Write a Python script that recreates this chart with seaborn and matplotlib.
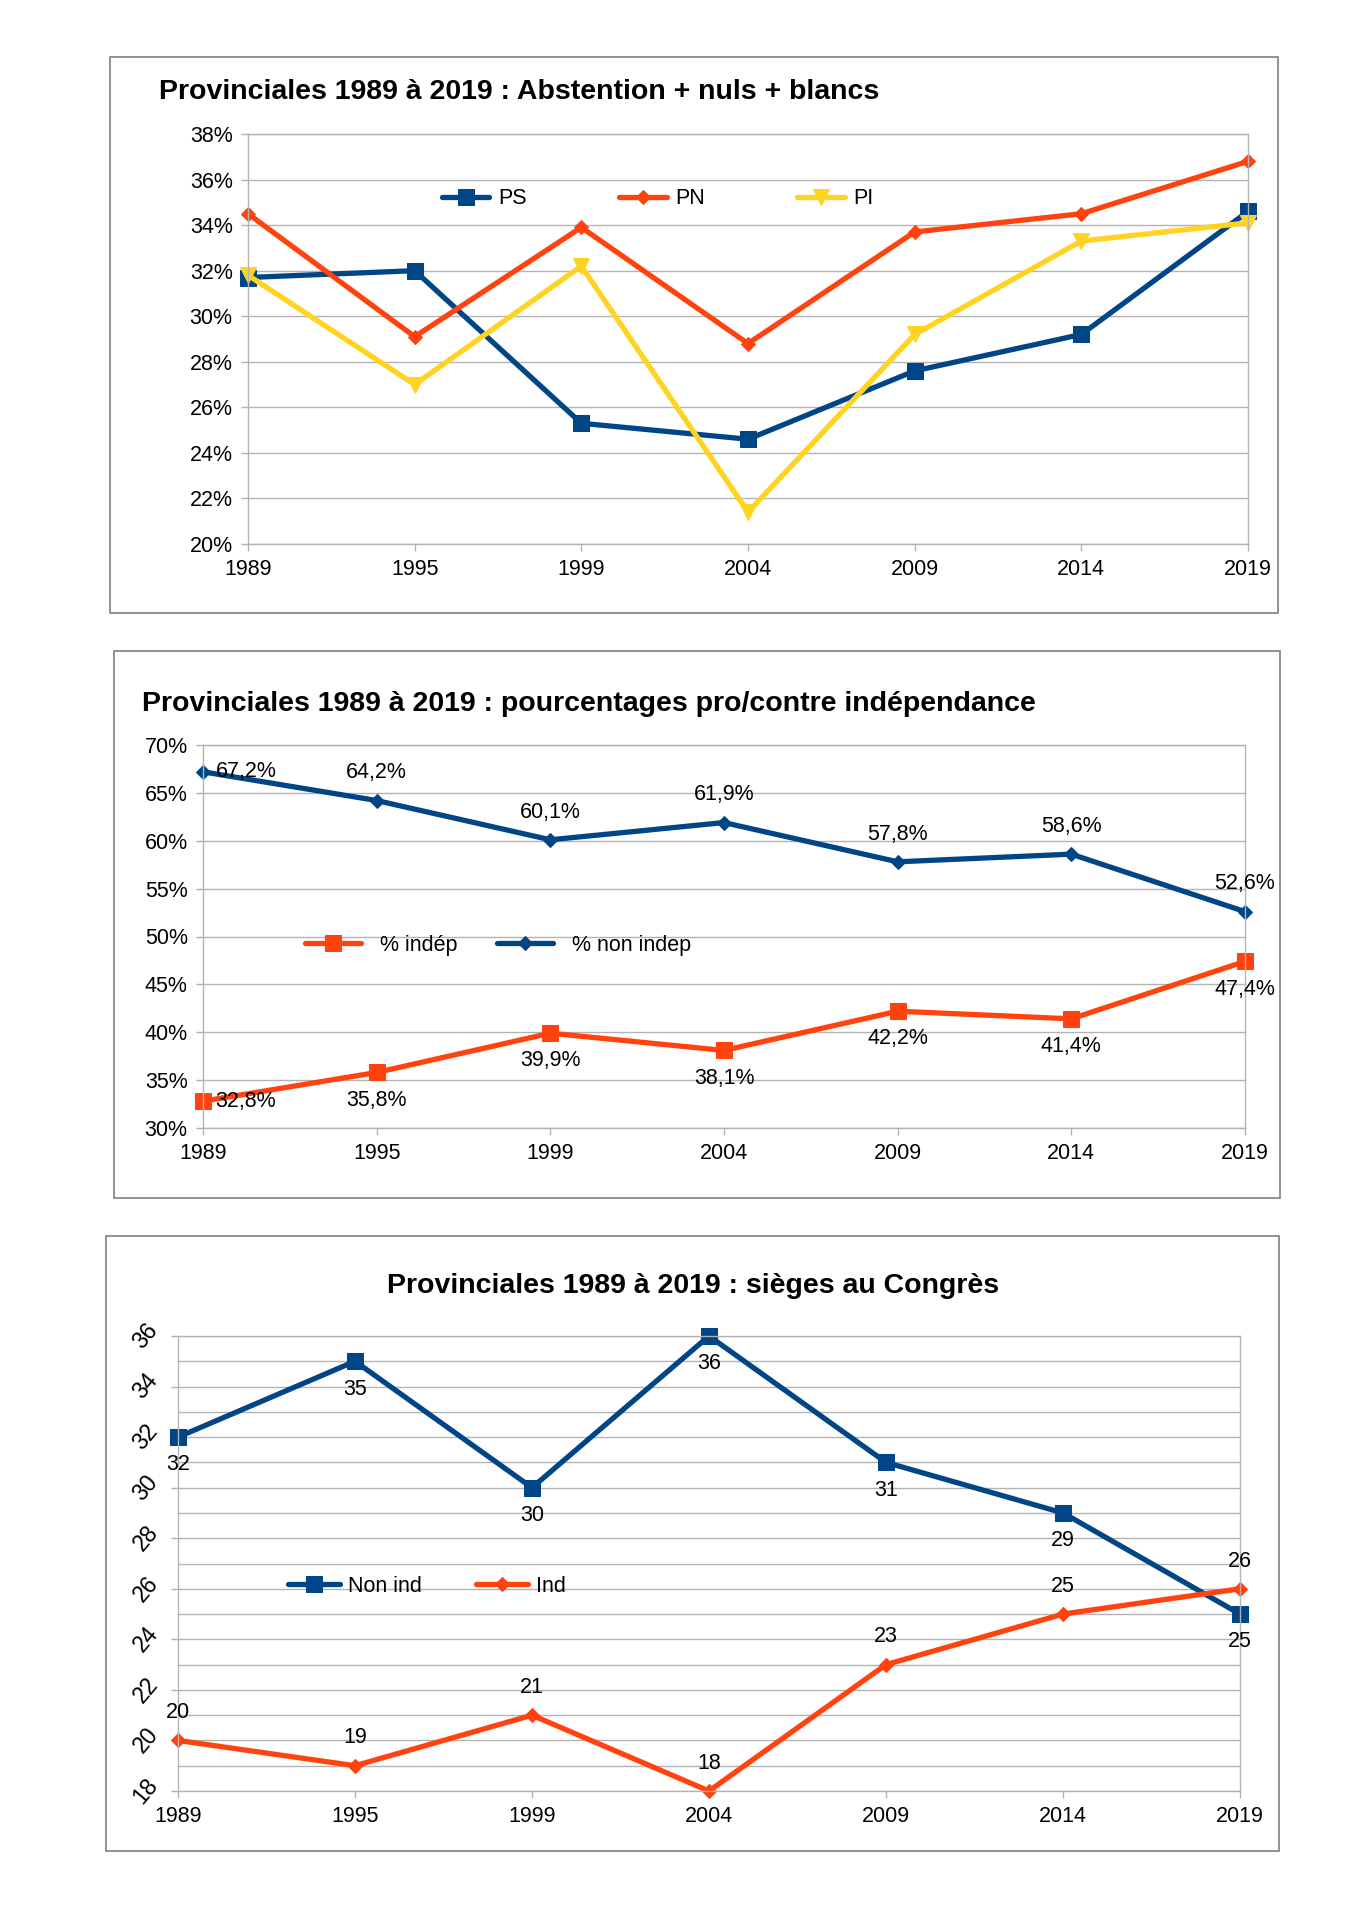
import matplotlib
matplotlib.use("Agg")
import matplotlib.pyplot as plt
import seaborn as sns
import pandas as pd
from matplotlib.patches import Rectangle
from matplotlib.ticker import MultipleLocator, FuncFormatter

years = ["1989", "1995", "1999", "2004", "2009", "2014", "2019"]

# Chart 1: Abstention + nuls + blancs (%)
ps = [31.7, 32.0, 25.3, 24.6, 27.6, 29.2, 34.6]
pn = [34.5, 29.1, 33.9, 28.8, 33.7, 34.5, 36.8]
pi = [31.8, 27.0, 32.2, 21.4, 29.2, 33.3, 34.1]

# Chart 2: pro / contre indépendance (%)
indep = [32.8, 35.8, 39.9, 38.1, 42.2, 41.4, 47.4]
non_indep = [67.2, 64.2, 60.1, 61.9, 57.8, 58.6, 52.6]

# Chart 3: sièges au Congrès
non_ind_seats = [32, 35, 30, 36, 31, 29, 25]
ind_seats = [20, 19, 21, 18, 23, 25, 26]

BLUE = "#004586"
ORANGE = "#ff420e"
YELLOW = "#ffd320"
GRID = "#b3b3b3"

sns.set_theme(style="white")
plt.rcParams["font.family"] = ["Liberation Sans", "DejaVu Sans"]
plt.rcParams["text.color"] = "black"

FS = 15.5
TFS = 20.5
LW = 3.8
W, H = 1356, 1920
fig = plt.figure(figsize=(W / 100, H / 100), dpi=100)
fig.patch.set_facecolor("white")


def fx(px):
    return px / W


def fy(py):
    return 1 - py / H


def frame(x0, y0, x1, y1):
    fig.patches.append(Rectangle((fx(x0), fy(y1)), fx(x1 - x0), (y1 - y0) / H,
                                 transform=fig.transFigure, fill=False,
                                 edgecolor="#7f7f7f", lw=1.2, zorder=0))


def make_ax(x0, y0, x1, y1):
    ax = fig.add_axes([fx(x0), fy(y1), fx(x1 - x0), (y1 - y0) / H])
    ax.set_facecolor("white")
    for s in ax.spines.values():
        s.set_color(GRID)
        s.set_linewidth(1.0)
    ax.grid(axis="y", color=GRID, lw=1.0)
    ax.set_axisbelow(True)
    ax.tick_params(axis="both", which="major", length=5, width=1, color=GRID,
                   labelsize=FS, labelcolor="black", pad=6, direction="out",
                   bottom=True, left=True)
    return ax


def plot_series(ax, values, color, marker, ms, label):
    df = pd.DataFrame({"x": range(len(years)), "y": values})
    n0 = len(ax.lines)
    sns.lineplot(data=df, x="x", y="y", ax=ax, color=color, marker=marker,
                 markersize=ms, linewidth=LW, markeredgecolor=color,
                 label=label)
    for ln in ax.lines[n0:]:
        ln.set_clip_on(False)


def finish_x(ax):
    ax.set_xlim(0, len(years) - 1)
    ax.set_xticks(range(len(years)))
    ax.set_xticklabels(years)
    ax.set_xlabel("")
    ax.set_ylabel("")


# ---------------- Chart 1 ----------------
frame(110, 57, 1278, 613)
ax1 = make_ax(248, 134, 1248, 544)
plot_series(ax1, ps, BLUE, "s", 12, "PS")
plot_series(ax1, pn, ORANGE, "D", 7.5, "PN")
plot_series(ax1, pi, YELLOW, "v", 12, "PI")
finish_x(ax1)
ax1.set_ylim(20, 38)
ax1.set_yticks(range(20, 39, 2))
ax1.yaxis.set_major_formatter(FuncFormatter(lambda v, p: f"{int(v)}%"))
ax1.legend(loc="center left", bbox_to_anchor=(fx(442), fy(199)),
           bbox_transform=fig.transFigure, ncol=3, frameon=False,
           fontsize=FS, handlelength=2.2, handletextpad=0.4,
           columnspacing=4.3, borderpad=0, borderaxespad=0)
fig.text(fx(159), fy(92), "Provinciales 1989 à 2019 : Abstention + nuls + blancs",
         fontsize=TFS, fontweight="bold", ha="left", va="center", color="black")

# ---------------- Chart 2 ----------------
frame(114, 651, 1280, 1198)
ax2 = make_ax(203, 745, 1245, 1128)
plot_series(ax2, indep, ORANGE, "s", 12, "% indép")
plot_series(ax2, non_indep, BLUE, "D", 7.5, "% non indep")
finish_x(ax2)
ax2.set_ylim(30, 70)
ax2.set_yticks(range(30, 71, 5))
ax2.yaxis.set_major_formatter(FuncFormatter(lambda v, p: f"{int(v)}%"))
ax2.legend(loc="center left", bbox_to_anchor=(fx(305), fy(945)),
           bbox_transform=fig.transFigure, ncol=2, frameon=False,
           fontsize=FS, handlelength=2.6, handletextpad=0.9,
           columnspacing=1.8, borderpad=0, borderaxespad=0)


def pct(v):
    return f"{v:.1f}%".replace(".", ",")


for i, v in enumerate(non_indep):
    if i == 0:
        ax2.annotate(pct(v), (i, v), xytext=(9, 0), textcoords="offset points",
                     ha="left", va="center", fontsize=FS, annotation_clip=False)
    else:
        ax2.annotate(pct(v), (i, v), xytext=(0, 20), textcoords="offset points",
                     ha="center", va="center", fontsize=FS, annotation_clip=False)
for i, v in enumerate(indep):
    if i == 0:
        ax2.annotate(pct(v), (i, v), xytext=(9, 0), textcoords="offset points",
                     ha="left", va="center", fontsize=FS, annotation_clip=False)
    else:
        ax2.annotate(pct(v), (i, v), xytext=(0, -20), textcoords="offset points",
                     ha="center", va="center", fontsize=FS, annotation_clip=False)
fig.text(fx(142), fy(704), "Provinciales 1989 à 2019 : pourcentages pro/contre indépendance",
         fontsize=TFS, fontweight="bold", ha="left", va="center", color="black")

# ---------------- Chart 3 ----------------
frame(106, 1236, 1279, 1851)
ax3 = make_ax(178, 1336, 1240, 1791)
plot_series(ax3, non_ind_seats, BLUE, "s", 12, "Non ind")
plot_series(ax3, ind_seats, ORANGE, "D", 7.5, "Ind")
finish_x(ax3)
ax3.set_ylim(18, 36)
ax3.yaxis.set_major_locator(MultipleLocator(2))
ax3.yaxis.set_minor_locator(MultipleLocator(1))
ax3.grid(axis="y", which="minor", color=GRID, lw=1.0)
ax3.tick_params(axis="y", which="minor", length=0)
for lbl in ax3.get_yticklabels():
    lbl.set_rotation(50)
    lbl.set_ha("right")
    lbl.set_va("center")
    lbl.set_fontsize(16.5)
ax3.legend(loc="center left", bbox_to_anchor=(fx(288), fy(1586)),
           bbox_transform=fig.transFigure, ncol=2, frameon=False,
           fontsize=FS, handlelength=2.4, handletextpad=0.4,
           columnspacing=2.5, borderpad=0, borderaxespad=0)
for i, v in enumerate(non_ind_seats):
    ax3.annotate(str(v), (i, v), xytext=(0, -20), textcoords="offset points",
                 ha="center", va="center", fontsize=FS, annotation_clip=False)
for i, v in enumerate(ind_seats):
    ax3.annotate(str(v), (i, v), xytext=(0, 20), textcoords="offset points",
                 ha="center", va="center", fontsize=FS, annotation_clip=False)
fig.text(fx(693), fy(1286), "Provinciales 1989 à 2019 : sièges au Congrès",
         fontsize=TFS, fontweight="bold", ha="center", va="center", color="black")

fig.savefig("out.png", dpi=100, facecolor="white")
